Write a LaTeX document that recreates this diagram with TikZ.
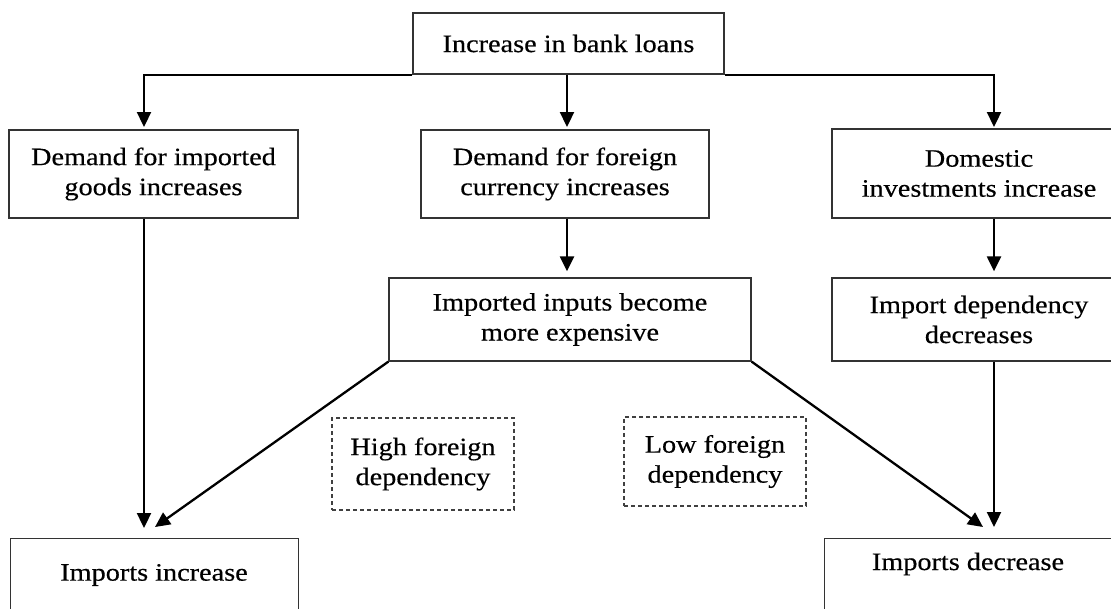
\documentclass[tikz,border=0pt]{standalone}
\usepackage{fontspec}
\setmainfont{Liberation Serif}[FakeStretch=1.13, FakeBold=0.4]
\usetikzlibrary{arrows.meta}
\tikzset{
  flowbox/.style={draw=black!80, line width=1.3pt, inner sep=0pt, align=center,
    font=\fontsize{25}{30}\selectfont},
  dashbox/.style={draw=black!75, line width=1.1pt, dash pattern=on 4pt off 3pt,
    inner sep=0pt, align=center, font=\fontsize{25}{30}\selectfont},
  boxsize/.style 2 args={minimum width=#1pt, minimum height=#2pt},
  txt/.style={inner sep=0pt, font=\fontsize{25}{30}\selectfont},
  arr/.style={draw=black, line width=2.3pt, -{Triangle[length=15pt,width=14pt]}}
}
\begin{document}
\begin{tikzpicture}[x=1pt,y=-1pt]
\useasboundingbox (0,0) rectangle (1111,608);
\fill[white] (0,0) rectangle (1111,608);

\node[flowbox, boxsize={311}{61}] (top) at (568.5,43.5) {Increase in bank loans};
\node[flowbox, boxsize={289}{88}] (d1) at (153.5,174) {Demand for imported\\goods increases};
\node[flowbox, boxsize={288}{88}] (d2) at (565,174) {Demand for foreign\\currency increases};
\node[flowbox, boxsize={294}{89}] (d3) at (979,173.5) {Domestic\\investments increase};
\node[flowbox, boxsize={362}{83}] (mid) at (570,319.5) {Imported inputs become\\more expensive};
\node[flowbox, boxsize={294}{83}] (dep) at (979,319.5) {Import dependency\\decreases};
\node[dashbox, boxsize={182}{92}] (hi) at (423,464) {High foreign\\dependency};
\node[dashbox, boxsize={182}{89}] (lo) at (715,461.5) {Low foreign\\dependency};
\node[flowbox, boxsize={288}{100}, anchor=north west] (inc) at (10,538) {};
\node[flowbox, boxsize={300}{100}, anchor=north west] (dec) at (824,538) {};
\node[txt] (inct) at (154,575) {Imports increase};
\node[txt] (dect) at (968,564) {Imports decrease};

\coordinate (a1) at (144,127);
\coordinate (a2) at (567,127);
\coordinate (a3) at (994,127);
\coordinate (t1) at (155,527);
\coordinate (t2) at (983,527);

\draw[arr] (top.south west) -| (a1);
\draw[arr] (top.south -| a2) -- (a2);
\draw[arr] (top.south east) -| (a3);
\draw[arr, shorten >=10pt] (d1.south -| a1) -- (inc.north -| a1);
\draw[arr, shorten >=6pt] (d2.south -| a2) -- (mid.north -| a2);
\draw[arr, shorten >=6pt] (d3.south -| a3) -- (dep.north -| a3);
\draw[arr, shorten >=11pt] (dep.south -| a3) -- (dec.north -| a3);
\draw[arr] (mid.south west) -- (t1);
\draw[arr] (mid.south east) -- (t2);
\end{tikzpicture}
\end{document}
